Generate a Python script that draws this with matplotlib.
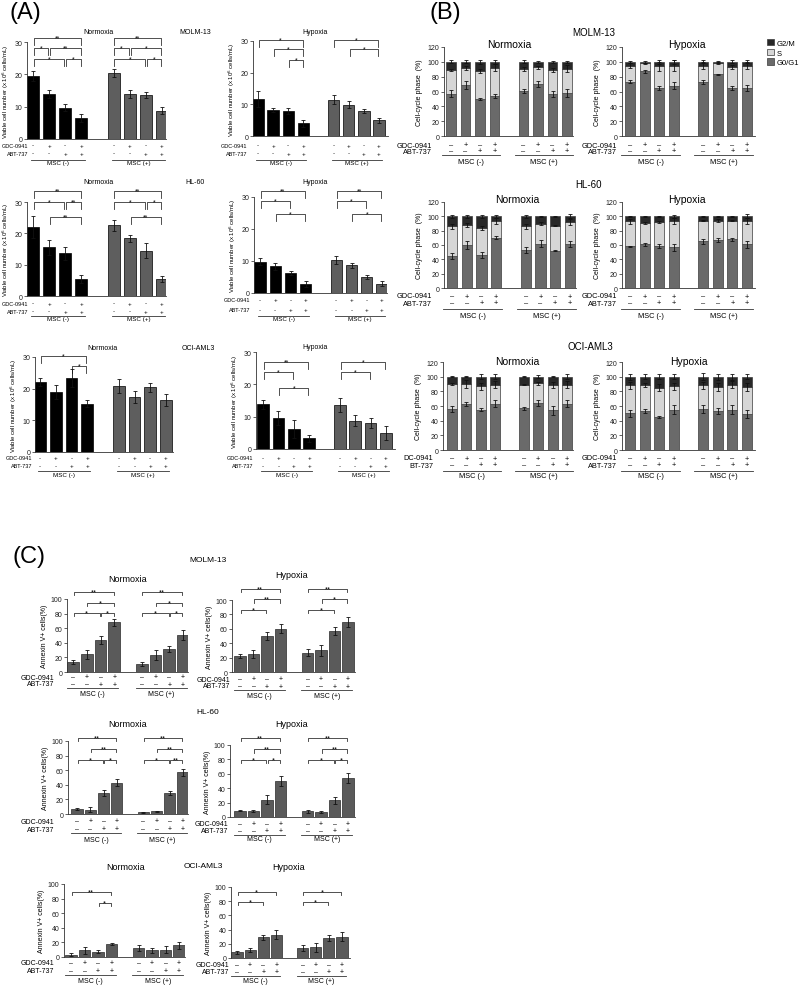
import numpy as np
import matplotlib
matplotlib.use("Agg")
import matplotlib.pyplot as plt
from matplotlib.patches import Patch
from matplotlib.transforms import blended_transform_factory as btf

plt.rcParams['font.family'] = ['Liberation Sans', 'DejaVu Sans']

# ---------------- data ----------------
conditions_gdc = ['-', '+', '-', '+', '-', '+', '-', '+']
conditions_abt = ['-', '-', '+', '+', '-', '-', '+', '+']
msc_groups = ['MSC (-)', 'MSC (+)']
cell_lines = ['MOLM-13', 'HL-60', 'OCI-AML3']
oxygen = ['Normoxia', 'Hypoxia']

# (A) viable cell number (x10^6 cells/mL)
a_molm_norm = [19.5, 14.0, 9.7, 6.5, 20.4, 14.0, 13.5, 8.8]
a_molm_norm_err = [1.5, 1.2, 1.0, 1.2, 1.2, 1.2, 0.9, 1.2]
a_molm_hyp = [11.8, 8.2, 8.0, 4.0, 11.5, 9.9, 7.9, 4.9]
a_molm_hyp_err = [2.5, 0.5, 1.0, 1.0, 1.3, 1.1, 0.7, 0.8]
a_hl_norm = [22.0, 15.5, 13.6, 5.5, 22.6, 18.4, 14.5, 5.5]
a_hl_norm_err = [3.5, 2.5, 2.0, 1.2, 1.7, 1.2, 2.5, 1.0]
a_hl_hyp = [9.8, 8.3, 6.2, 2.9, 10.3, 8.7, 5.0, 2.9]
a_hl_hyp_err = [1.0, 1.0, 0.7, 1.0, 1.3, 0.8, 0.6, 0.7]
a_oci_norm = [22.0, 19.0, 23.3, 15.3, 20.9, 17.4, 20.4, 16.4]
a_oci_norm_err = [1.3, 2.3, 2.8, 1.0, 2.2, 1.8, 1.5, 2.0]
a_oci_hyp = [13.8, 9.5, 6.2, 3.3, 13.6, 8.8, 8.1, 5.0]
a_oci_hyp_err = [1.5, 2.2, 2.7, 1.0, 2.2, 1.8, 1.6, 2.2]

# (B) cell-cycle phase (%) : G0/G1, S, G2/M
b_molm_norm_g0 = [57, 69, 50, 54, 61, 70, 57, 58]
b_molm_norm_s = [32, 23, 38, 38, 29, 23, 32, 33]
b_molm_norm_g2 = [11, 8, 12, 8, 10, 7, 11, 9]
b_molm_norm_err = [[5, 5, 1, 3, 3, 4, 4, 5], [2, 3, 3, 5, 3, 2, 3, 5], [2, 2, 3, 3, 2, 1, 1, 1]]
b_molm_hyp_g0 = [73, 87, 65, 68, 73, 83, 65, 65]
b_molm_hyp_s = [22, 11, 29, 27, 22, 15, 28, 30]
b_molm_hyp_g2 = [5, 2, 6, 5, 5, 2, 7, 5]
b_molm_hyp_err = [[2, 2, 3, 5, 3, 1, 3, 4], [3, 1, 6, 8, 5, 1, 3, 5], [1, 1, 3, 3, 2, 0.5, 2, 2]]
b_hl_norm_g0 = [45, 60, 46, 70, 53, 62, 52, 61]
b_hl_norm_s = [41, 28, 38, 23, 33, 28, 35, 31]
b_hl_norm_g2 = [14, 12, 16, 7, 14, 10, 13, 8]
b_hl_norm_err = [[4, 5, 4, 2, 4, 5, 1, 4], [3, 3, 3, 4, 3, 2, 1, 4], [2, 2, 2, 2, 2, 1, 1, 3]]
b_hl_hyp_g0 = [58, 61, 59, 57, 65, 67, 68, 61]
b_hl_hyp_s = [35, 30, 33, 36, 29, 27, 26, 32]
b_hl_hyp_g2 = [7, 9, 8, 7, 6, 6, 6, 7]
b_hl_hyp_err = [[1, 2, 3, 5, 3, 3, 2, 5], [3, 1, 1, 4, 1, 2, 1, 4], [1, 1, 1, 2, 1, 1, 1, 3]]
b_oci_norm_g0 = [56, 63, 55, 63, 57, 64, 54, 63]
b_oci_norm_s = [34, 27, 32, 26, 32, 27, 35, 26]
b_oci_norm_g2 = [10, 10, 13, 11, 11, 9, 11, 11]
b_oci_norm_err = [[4, 3, 2, 5, 2, 4, 6, 5], [1, 5, 5, 5, 1, 2, 4, 5], [1, 1, 3, 3, 1, 2, 1, 3]]
b_oci_hyp_g0 = [50, 53, 45, 55, 56, 53, 55, 49]
b_oci_hyp_s = [38, 36, 40, 32, 32, 33, 34, 37]
b_oci_hyp_g2 = [12, 11, 15, 13, 12, 14, 11, 14]
b_oci_hyp_err = [[5, 3, 2, 6, 5, 4, 6, 6], [5, 3, 5, 5, 5, 5, 5, 5], [4, 3, 3, 3, 5, 4, 4, 3]]
phase_labels = ['G2/M', 'S', 'G0/G1']

# (C) Annexin V+ cells (%)
c_molm_norm = [14, 24, 44, 68, 11, 23, 31, 51]
c_molm_norm_err = [3, 6, 5, 5, 3, 7, 4, 7]
c_molm_hyp = [22, 25, 50, 60, 27, 30, 57, 69]
c_molm_hyp_err = [3, 5, 6, 6, 5, 8, 5, 7]
c_hl_norm = [7, 6, 29, 43, 2.5, 3.5, 29, 57]
c_hl_norm_err = [1, 3, 4, 5, 0.5, 1, 3, 5]
c_hl_hyp = [9, 8.5, 24, 50, 8, 7, 23, 54]
c_hl_hyp_err = [1, 1, 6, 7, 2, 1, 5, 7]
c_oci_norm = [3, 9, 7, 18, 12, 9, 10, 16]
c_oci_norm_err = [2, 5, 2, 1.5, 4, 4, 5, 5]
c_oci_hyp = [8, 11, 29, 33, 14, 15, 28, 30]
c_oci_hyp_err = [2, 3, 4, 6, 4, 6, 4, 6]

# significance brackets: (bar i, bar j, height, label)
a_molm_norm_sig = [(0, 3, 31.2, '**'), (0, 1, 28.1, '*'), (1, 3, 28.1, '**'), (0, 2, 24.7, '*'), (2, 3, 24.7, '*'),
                   (4, 7, 31.2, '**'), (4, 5, 28.1, '*'), (5, 7, 28.1, '*'), (4, 6, 24.7, '*'), (6, 7, 24.7, '*')]
a_molm_hyp_sig = [(0, 3, 30.3, '*'), (1, 3, 27.5, '*'), (2, 3, 24.0, '*'), (4, 7, 30.3, '*'), (5, 7, 27.5, '*')]
a_hl_norm_sig = [(0, 3, 33.5, '**'), (0, 2, 30.0, '*'), (2, 3, 30.0, '**'), (1, 3, 25.2, '**'),
                 (4, 7, 33.5, '**'), (4, 6, 30.0, '*'), (6, 7, 30.0, '*'), (5, 7, 25.2, '**')]
a_hl_hyp_sig = [(0, 3, 31.9, '**'), (0, 2, 28.8, '*'), (1, 3, 24.7, '*'),
                (4, 7, 31.9, '**'), (4, 6, 28.8, '*'), (5, 7, 24.7, '*')]
a_oci_norm_sig = [(0, 3, 30.3, '*'), (2, 3, 27.2, '*')]
a_oci_hyp_sig = [(0, 3, 27.0, '**'), (0, 2, 23.8, '*'), (1, 3, 18.8, '*'), (4, 7, 27.0, '*'), (4, 6, 23.8, '*')]

c_molm_norm_sig = [(0, 3, 109.6, '**'), (1, 3, 94.5, '*'), (0, 2, 80.8, '*'), (2, 3, 80.8, '*'),
                   (4, 7, 109.6, '**'), (5, 7, 94.5, '*'), (4, 6, 80.8, '*'), (6, 7, 80.8, '*')]
c_molm_hyp_sig = [(0, 3, 115, '**'), (1, 3, 101, '**'), (0, 2, 86, '*'),
                  (4, 7, 115, '**'), (5, 7, 101, '*'), (4, 6, 86, '*')]
c_hl_norm_sig = [(0, 3, 104, '**'), (1, 3, 89, '**'), (0, 2, 74, '*'), (2, 3, 74, '*'),
                 (4, 7, 104, '**'), (5, 7, 89, '**'), (4, 6, 74, '*'), (6, 7, 74, '**')]
c_hl_hyp_sig = [(0, 3, 110, '**'), (1, 3, 94, '**'), (0, 2, 79, '*'), (2, 3, 79, '*'),
                (4, 7, 110, '**'), (5, 7, 94, '**'), (4, 6, 79, '*'), (6, 7, 79, '*')]
c_oci_norm_sig = [(0, 3, 89, '**'), (2, 3, 74, '*')]
c_oci_hyp_sig = [(0, 3, 93, '*'), (0, 2, 79, '*'), (4, 7, 93, '*'), (4, 6, 79, '*')]

# ---------------- layout helpers ----------------
W, H = 800.0, 987.0
fig = plt.figure(figsize=(W / 100, H / 100), dpi=100)
POS = np.array([0, 1, 2, 3, 5, 6, 7, 8], float)


def make_ax(geo, ymax, yticks, fs, ylabel, lfs, lpad):
    x0, x1, ytop, yzero, b0, b7 = geo
    s = (b7 - b0) / 8.0
    ax = fig.add_axes([x0 / W, 1 - yzero / H, (x1 - x0) / W, (yzero - ytop) / H])
    ax.set_xlim((x0 - b0) / s, (x1 - b0) / s)
    ax.set_ylim(0, ymax)
    ax.set_yticks(yticks)
    ax.set_xticks([])
    ax.patch.set_alpha(0)
    ax.spines['top'].set_visible(False)
    ax.spines['right'].set_visible(False)
    for sp in ('left', 'bottom'):
        ax.spines[sp].set_linewidth(0.6)
        ax.spines[sp].set_color('#333333')
    ax.tick_params(axis='y', labelsize=fs, length=2, width=0.5, pad=1.5, colors='#222222')
    ax.set_ylabel(ylabel, fontsize=lfs, labelpad=lpad)
    return ax


def cond_rows(ax, geo, ys, lab_right, minus, fs, sfs, line_ext, labels=('GDC-0941', 'ABT-737')):
    x0, x1, ytop, yzero, b0, b7 = geo
    fr = lambda y: (yzero - y) / (yzero - ytop)
    tr = btf(ax.transData, ax.transAxes)
    lx = (lab_right - x0) / (x1 - x0)
    for name, signs, y in ((labels[0], conditions_gdc, ys[0]), (labels[1], conditions_abt, ys[1])):
        ax.text(lx, fr(y), name, transform=ax.transAxes, ha='right', va='center', fontsize=fs)
        for p, sg in zip(POS, signs):
            ax.text(p, fr(y), sg if sg == '+' else minus, transform=tr, ha='center', va='center', fontsize=sfs)
    for g, name in enumerate(msc_groups):
        a, b = POS[4 * g] + line_ext[0], POS[4 * g + 3] + line_ext[1]
        ax.plot([a, b], [fr(ys[2])] * 2, transform=tr, color='#333333', lw=0.6, clip_on=False)
        ax.text((a + b) / 2, fr(ys[3]), name, transform=tr, ha='center', va='center', fontsize=sfs)


def brackets(ax, sig, leg, fs):
    for i, j, y, txt in sig:
        xi, xj = POS[i] + 0.05, POS[j] - 0.05
        ax.plot([xi, xi, xj, xj], [y - leg, y, y, y - leg], color='#333333', lw=0.6, clip_on=False)
        ax.text((xi + xj) / 2, y, txt, ha='center', va='center', fontsize=fs)


def simple_bars(ax, vals, errs, colors, edge, width):
    ax.bar(POS, vals, width=width, color=colors, edgecolor=edge, linewidth=0.5, zorder=2)
    ax.errorbar(POS, vals, yerr=errs, fmt='none', ecolor='#111111', elinewidth=0.6,
                capsize=1.3, capthick=0.6, zorder=3)


C_G0, C_S, C_G2 = '#6a6a6a', '#d6d6d6', '#282828'


def stack_bars(ax, g0, s, g2, errs):
    g0 = np.array(g0, float)
    s = np.array(s, float)
    g2 = np.array(g2, float)
    kw = dict(width=0.68, edgecolor='#3a3a3a', linewidth=0.5, zorder=2)
    ax.bar(POS, g0, color=C_G0, **kw)
    ax.bar(POS, s, bottom=g0, color=C_S, **kw)
    ax.bar(POS, g2, bottom=g0 + s, color=C_G2, **kw)
    for top, e in zip((g0, g0 + s, g0 + s + g2), errs):
        ax.errorbar(POS, top, yerr=e, fmt='none', ecolor='#111111', elinewidth=0.6,
                    capsize=1.3, capthick=0.6, zorder=3)


def ftext(txt, x, y, fs, **kw):
    fig.text(x / W, 1 - y / H, txt, fontsize=fs, ha='center', va='center', **kw)


# ---------------- panel A ----------------
A_BLACK, A_GRAY = '#000000', '#5e5e5e'
a_colors = [A_BLACK] * 4 + [A_GRAY] * 4
a_ylab = r'Viable cell number (x 10$^6$ cells/mL)'
a_panels = [
    (a_molm_norm, a_molm_norm_err, a_molm_norm_sig, (27, 166, 43, 140, 33, 162), (146, 154, 161, 164), 28),
    (a_molm_hyp, a_molm_hyp_err, a_molm_hyp_sig, (253, 388, 42, 137, 258, 379), (146, 154, 161, 164), 247),
    (a_hl_norm, a_hl_norm_err, a_hl_norm_sig, (27, 166, 203, 297, 33, 162), (304, 312, 317, 320), 28),
    (a_hl_hyp, a_hl_hyp_err, a_hl_hyp_sig, (254, 387, 198, 294, 260, 382), (301, 311, 317, 320), 250),
    (a_oci_norm, a_oci_norm_err, a_oci_norm_sig, (35, 173, 358, 453, 40, 166), (459, 467, 472, 476), 32),
    (a_oci_hyp, a_oci_hyp_err, a_oci_hyp_sig, (256, 395, 353, 450, 263, 386), (459, 467, 472, 476), 253),
]
for vals, errs, sig, geo, ys, lr in a_panels:
    ax = make_ax(geo, 30, [0, 10, 20, 30], 5, a_ylab, 4.3, 2)
    simple_bars(ax, vals, errs, a_colors, '#000000', 0.75)
    brackets(ax, sig, 2.2, 5)
    cond_rows(ax, geo, ys, lr, '-', 4.0, 4.5, (-0.1, 0.2))

for txt, x, y in [('Normoxia', 98, 32), (cell_lines[0], 195, 32), ('Hypoxia', 315, 33),
                  ('Normoxia', 98, 183), (cell_lines[1], 195, 183), ('Hypoxia', 315, 183),
                  ('Normoxia', 103, 349), (cell_lines[2], 198, 349), ('Hypoxia', 315, 348)]:
    ftext(txt, x, y, 5)

# ---------------- panel B ----------------
b_ylab = 'Cell-cycle phase  (%)'
b_panels = [
    (b_molm_norm_g0, b_molm_norm_s, b_molm_norm_g2, b_molm_norm_err, (444, 573, 48, 137, 451, 567), (146, 152, 156, 162), 432, ('GDC-0941', 'ABT-737')),
    (b_molm_hyp_g0, b_molm_hyp_s, b_molm_hyp_g2, b_molm_hyp_err, (622, 755, 48, 137, 630, 747), (146, 152, 156, 162), 617, ('GDC-0941', 'ABT-737')),
    (b_hl_norm_g0, b_hl_norm_s, b_hl_norm_g2, b_hl_norm_err, (444, 576, 203, 289, 452, 570), (297, 304, 310, 316), 432, ('GDC-0941', 'ABT-737')),
    (b_hl_hyp_g0, b_hl_hyp_s, b_hl_hyp_g2, b_hl_hyp_err, (622, 755, 203, 289, 630, 747), (297, 304, 310, 316), 617, ('GDC-0941', 'ABT-737')),
    (b_oci_norm_g0, b_oci_norm_s, b_oci_norm_g2, b_oci_norm_err, (443, 573, 363, 451, 452, 567), (459, 466, 472, 477), 433, ('DC-0941', 'BT-737')),
    (b_oci_hyp_g0, b_oci_hyp_s, b_oci_hyp_g2, b_oci_hyp_err, (622, 755, 363, 451, 630, 747), (459, 466, 472, 477), 617, ('GDC-0941', 'ABT-737')),
]
for g0, s, g2, errs, geo, ys, lr, labs in b_panels:
    ax = make_ax(geo, 120, [0, 20, 40, 60, 80, 100, 120], 5, b_ylab, 5, 3)
    stack_bars(ax, g0, s, g2, errs)
    cond_rows(ax, geo, ys, lr, '\u2013', 5.3, 5.3, (-0.6, 0.4), labels=labs)

for txt, x, y, fs in [(cell_lines[0], 594, 33, 7), ('Normoxia', 509, 45, 7.5), ('Hypoxia', 687, 45, 7.5),
                      (cell_lines[1], 589, 185, 7), ('Normoxia', 517, 200, 7.5), ('Hypoxia', 687, 200, 7.5),
                      (cell_lines[2], 590, 347, 7), ('Normoxia', 517, 362, 7.5), ('Hypoxia', 689, 362, 7.5)]:
    ftext(txt, x, y, fs)

handles = [Patch(facecolor=C_G2, edgecolor='#3a3a3a', lw=0.5),
           Patch(facecolor=C_S, edgecolor='#3a3a3a', lw=0.5),
           Patch(facecolor=C_G0, edgecolor='#3a3a3a', lw=0.5)]
fig.legend(handles, phase_labels, loc='upper left', bbox_to_anchor=(767 / W, 1 - 40 / H), frameon=False,
           fontsize=5.5, handlelength=0.9, handleheight=0.9, labelspacing=0.25, handletextpad=0.4,
           borderaxespad=0, borderpad=0)

# ---------------- panel C ----------------
C_BAR = '#5a5a5a'
c_ylab = 'Annexin V+ cells(%)'
c_panels = [
    (c_molm_norm, c_molm_norm_err, c_molm_norm_sig, (67, 188, 600, 673, 73, 183), (678, 685, 689, 695), 54),
    (c_molm_hyp, c_molm_hyp_err, c_molm_hyp_sig, (232, 355, 601, 673, 240, 348), (680, 687, 691, 696), 230),
    (c_hl_norm, c_hl_norm_err, c_hl_norm_sig, (68, 188, 742, 815, 77, 183), (822, 830, 834, 840), 54),
    (c_hl_hyp, c_hl_hyp_err, c_hl_hyp_sig, (230, 355, 746, 818, 240, 348), (825, 832, 836, 840), 228),
    (c_oci_norm, c_oci_norm_err, c_oci_norm_sig, (64, 185, 885, 958, 71, 179), (964, 972, 976, 982), 54),
    (c_oci_hyp, c_oci_hyp_err, c_oci_hyp_sig, (231, 350, 888, 959, 237, 342), (966, 973, 977, 982), 229),
]
for vals, errs, sig, geo, ys, lr in c_panels:
    ax = make_ax(geo, 100, [0, 20, 40, 60, 80, 100], 5, c_ylab, 5, 2)
    simple_bars(ax, vals, errs, C_BAR, '#2a2a2a', 0.85)
    brackets(ax, sig, 4.5, 5.5)
    cond_rows(ax, geo, ys, lr, '\u2013', 5, 5, (-0.45, 0.3))

for txt, x, y, fs in [(cell_lines[0], 208, 560, 6), ('Normoxia', 128, 579, 6.5), ('Hypoxia', 292, 576, 6.5),
                      (cell_lines[1], 208, 713, 6), ('Normoxia', 128, 725, 6.5), ('Hypoxia', 292, 725, 6.5),
                      (cell_lines[2], 203, 867, 6), ('Normoxia', 126, 868, 6.5), ('Hypoxia', 289, 868, 6.5)]:
    ftext(txt, x, y, fs)

# ---------------- panel letters ----------------
for txt, x, y in [('(A)', 25, 13), ('(B)', 445, 13), ('(C)', 29, 557)]:
    ftext(txt, x, y, 17)

fig.savefig('out.png', dpi=100)
